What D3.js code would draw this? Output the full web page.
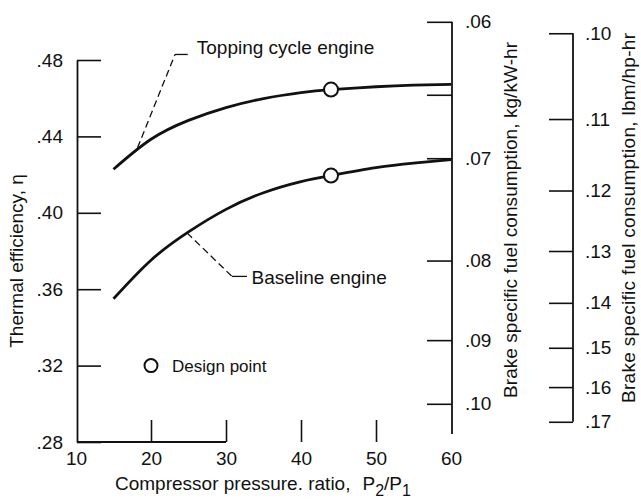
<!DOCTYPE html>
<html>
<head>
<meta charset="utf-8">
<script src="https://cdn.jsdelivr.net/npm/d3@7"></script>
<style>
  html, body { margin: 0; padding: 0; background: #fff; }
  svg { display: block; }
  text { font-family: "Liberation Sans", Arial, sans-serif; fill: #111; }
</style>
</head>
<body>
<svg id="chart" width="641" height="501"></svg>
<script>
// ---------------- data ----------------
const pressureRatio = [15, 20, 25, 30, 35, 40, 44, 50, 55, 60];
const toppingEff    = [0.4228, 0.4385, 0.4484, 0.4551, 0.4598, 0.4629, 0.4645, 0.4660, 0.4668, 0.4672];
const baselineEff   = [0.3550, 0.3752, 0.3900, 0.4018, 0.4105, 0.4163, 0.4195, 0.4236, 0.4260, 0.4278];

const designPR = [44, 44];
const designEff = [0.4645, 0.4195];

const xTicks = [10, 20, 30, 40, 50, 60];
const effTicks = [0.28, 0.32, 0.36, 0.40, 0.44, 0.48];
const kgTicks = [0.06, 0.07, 0.08, 0.09, 0.10];
const kgMinorTicks = [0.065];
const lbmTicks = [0.10, 0.11, 0.12, 0.13, 0.14, 0.15, 0.16, 0.17];

// bsfc = constant / efficiency
const kgConst = 0.03;
const lbmConst = 0.0494;

// annotation leaders (data units)
const toppingLeader  = [[18.2, 0.4340], [23.2, 0.4829], [24.9, 0.4829]];
const baselineLeader = [[24.8, 0.3895], [30.8, 0.3667], [32.8, 0.3667]];
const toppingLabel  = {text: "Topping cycle engine", pr: 26.1, eff: 0.4868};
const baselineLabel = {text: "Baseline engine", pr: 33.4, eff: 0.3660};
const legendPoint   = {text: "Design point", pr: 20, eff: 0.32};

// ---------------- layout ----------------
const svg = d3.select("#chart");
const x = d3.scaleLinear().domain([10, 60]).range([76, 451]);
const y = d3.scaleLinear().domain([0.28, 0.48]).range([442, 60]);
const kgAxisX = 452, lbmAxisX = 573;
const FS = 19;
const fmt = d => d3.format(".2f")(d).replace(/^0/, "");

// left axis
svg.append("g").attr("transform", `translate(77,0)`)
  .call(d3.axisLeft(y).tickValues(effTicks).tickSizeInner(-24).tickSizeOuter(0).tickPadding(14).tickFormat(fmt));
// bottom axis
const gB = svg.append("g").attr("transform", `translate(0,442)`)
  .call(d3.axisBottom(x).tickValues(xTicks).tickSizeInner(-22).tickSizeOuter(0).tickPadding(10)
    .tickFormat(d3.format("d")));
gB.select(".domain").remove();
gB.selectAll(".tick").filter(d => d === 10 || d === 60).select("line").remove();
svg.append("line").attr("x1", x(10) + 1).attr("x2", x(30)).attr("y1", 442).attr("y2", 442)
  .attr("stroke", "#111").attr("stroke-width", 1.8);

// kg axis
const gK = svg.append("g").attr("transform", `translate(${kgAxisX},0)`)
  .call(d3.axisRight(y).tickValues(kgTicks.map(v => kgConst / v)).tickSizeInner(-25).tickSizeOuter(0).tickPadding(13)
    .tickFormat(d => fmt(kgConst / d)));
gK.select(".domain").remove();
gK.append("line").attr("x1", 0).attr("x2", 0).attr("y1", y(kgConst / 0.06)).attr("y2", 434)
  .attr("stroke", "#111").attr("stroke-width", 1.8);
gK.selectAll(".minor").data(kgMinorTicks).join("line").attr("class", "minor")
  .attr("x1", -25).attr("x2", 0).attr("y1", d => y(kgConst / d)).attr("y2", d => y(kgConst / d))
  .attr("stroke", "#111").attr("stroke-width", 1.6);

// lbm axis
const gP = svg.append("g").attr("transform", `translate(${lbmAxisX},0)`)
  .call(d3.axisRight(y).tickValues(lbmTicks.map(v => lbmConst / v)).tickSizeInner(-24).tickSizeOuter(0).tickPadding(12)
    .tickFormat(d => fmt(lbmConst / d)));
gP.select(".domain").remove();
gP.append("line").attr("x1", 0).attr("x2", 0)
  .attr("y1", y(lbmConst / lbmTicks[0])).attr("y2", y(lbmConst / lbmTicks[lbmTicks.length - 1]))
  .attr("stroke", "#111").attr("stroke-width", 1.8);

svg.selectAll(".domain").attr("stroke", "#111").attr("stroke-width", 1.8);
svg.selectAll(".tick line").attr("stroke", "#111").attr("stroke-width", 1.6);
svg.selectAll(".tick text").attr("font-size", FS).attr("fill", "#111").attr("font-family", null);

// curves
const line = d3.line().x(d => x(d[0])).y(d => y(d[1])).curve(d3.curveNatural);
[toppingEff, baselineEff].forEach(series => {
  svg.append("path").datum(pressureRatio.map((p, i) => [p, series[i]]))
    .attr("d", line).attr("fill", "none").attr("stroke", "#111").attr("stroke-width", 2.8);
});

// leaders
const lead = d3.line().x(d => x(d[0])).y(d => y(d[1]));
[toppingLeader, baselineLeader].forEach(pts => {
  svg.append("path").datum(pts.slice(0, 2)).attr("d", lead).attr("fill", "none")
    .attr("stroke", "#111").attr("stroke-width", 1.3).attr("stroke-dasharray", "7,4");
  svg.append("path").datum(pts.slice(1)).attr("d", lead).attr("fill", "none")
    .attr("stroke", "#111").attr("stroke-width", 1.3);
});
[toppingLabel, baselineLabel].forEach(l => {
  svg.append("text").attr("x", x(l.pr)).attr("y", y(l.eff)).attr("dy", "0.35em")
    .attr("font-size", FS).text(l.text);
});

// design points
svg.selectAll(".dp").data(designPR.map((p, i) => [p, designEff[i]])).join("circle")
  .attr("class", "dp").attr("cx", d => x(d[0])).attr("cy", d => y(d[1])).attr("r", 7)
  .attr("fill", "#fff").attr("stroke", "#111").attr("stroke-width", 2);
svg.append("circle").attr("cx", x(legendPoint.pr)).attr("cy", y(legendPoint.eff)).attr("r", 6.5)
  .attr("fill", "#fff").attr("stroke", "#111").attr("stroke-width", 2);
svg.append("text").attr("x", x(legendPoint.pr) + 21).attr("y", y(legendPoint.eff)).attr("dy", "0.35em")
  .attr("font-size", 17).text(legendPoint.text);

// axis titles
svg.append("text").attr("transform", "translate(23,261) rotate(-90)").attr("text-anchor", "middle")
  .attr("font-size", FS).text("Thermal efficiency, η");
const xt = svg.append("text").attr("x", 115).attr("y", 490).attr("font-size", FS);
xt.append("tspan").text("Compressor pressure. ratio,");
xt.append("tspan").attr("dx", 12).text("P");
xt.append("tspan").attr("dy", 6).attr("font-size", FS - 3).text("2");
xt.append("tspan").attr("dy", -6).text("/P");
xt.append("tspan").attr("dy", 6).attr("font-size", FS - 3).text("1");
svg.append("text").attr("transform", "translate(517,220) rotate(-90)").attr("text-anchor", "middle")
  .attr("font-size", FS).attr("textLength", 356).text("Brake specific fuel consumption,  kg/kW-hr");
svg.append("text").attr("transform", "translate(635,218) rotate(-90)").attr("text-anchor", "middle")
  .attr("font-size", FS).attr("textLength", 370).text("Brake specific fuel consumption,  lbm/hp-hr");
</script>
</body>
</html>
